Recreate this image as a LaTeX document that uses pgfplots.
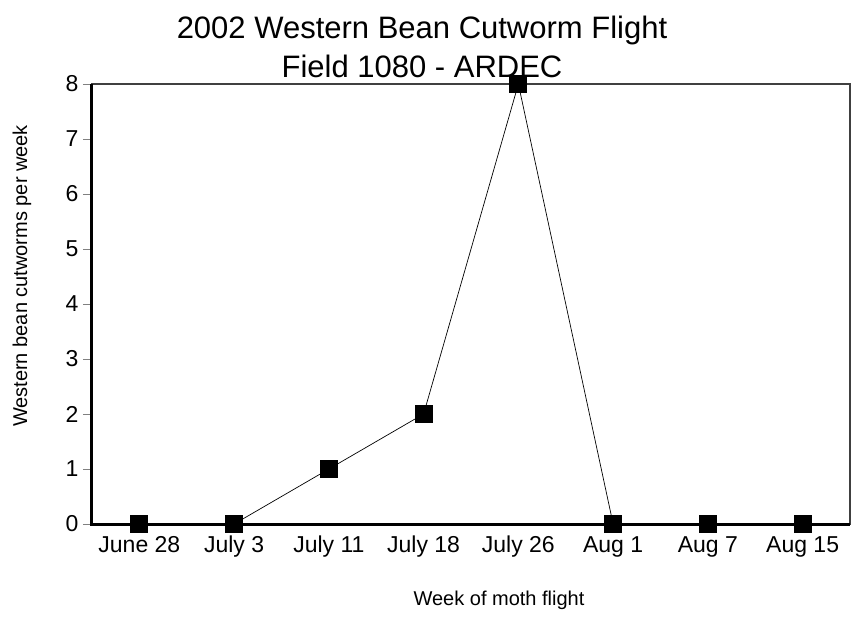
\documentclass[border=0pt]{standalone}
\usepackage{fontspec}
\setmainfont{Liberation Sans}
\usepackage{pgfplots}
\pgfplotsset{compat=1.18}
\begin{document}
\begin{tikzpicture}
\begin{axis}[
  at={(0pt,0pt)}, anchor=south west,
  scale only axis, width=758pt, height=440pt,
  xmin=-0.5, xmax=7.5, ymin=0, ymax=8,
  xtick={0,1,2,3,4,5,6,7},
  xticklabels={June 28, July 3, July 11, July 18, July 26, Aug 1, Aug 7, Aug 15},
  ytick={0,1,2,3,4,5,6,7,8},
  /pgf/number format/assume math mode=true,
  ticklabel style={font=\fontsize{23}{27}\selectfont},
  x tick style={draw=none},
  y tick style={draw=gray, line width=0.8pt},
  tick align=outside, major tick length=9pt,
  xticklabel style={text height=16pt, text depth=5pt, yshift=0pt},
  yticklabel style={xshift=-1pt},
  axis line style={draw=black!75, line width=1.2pt},
  clip=false,
]
\draw[line width=3pt, black] (rel axis cs:0,1) -- (rel axis cs:0,0) -- (rel axis cs:1,0);
\addplot[black, line width=0.7pt, mark=square*, mark size=8.5pt, mark options={solid, fill=black, line width=0pt}]
  coordinates {(0,0) (1,0) (2,1) (3,2) (4,8) (5,0) (6,0) (7,0)};
\end{axis}
\node[font=\fontsize{31}{36}\selectfont] at (330pt,494pt) {2002 Western Bean Cutworm Flight};
\node[font=\fontsize{31}{36}\selectfont] at (330pt,458pt) {Field 1080 - ARDEC};
\node[font=\fontsize{20}{24}\selectfont] at (407pt,-76pt) {Week of moth flight};
\node[font=\fontsize{20}{24}\selectfont, rotate=90] at (-70pt,248pt) {Western bean cutworms per week};
\pgfresetboundingbox
\useasboundingbox (-92pt,-92pt) rectangle (759pt,524pt);
\end{tikzpicture}
\end{document}
